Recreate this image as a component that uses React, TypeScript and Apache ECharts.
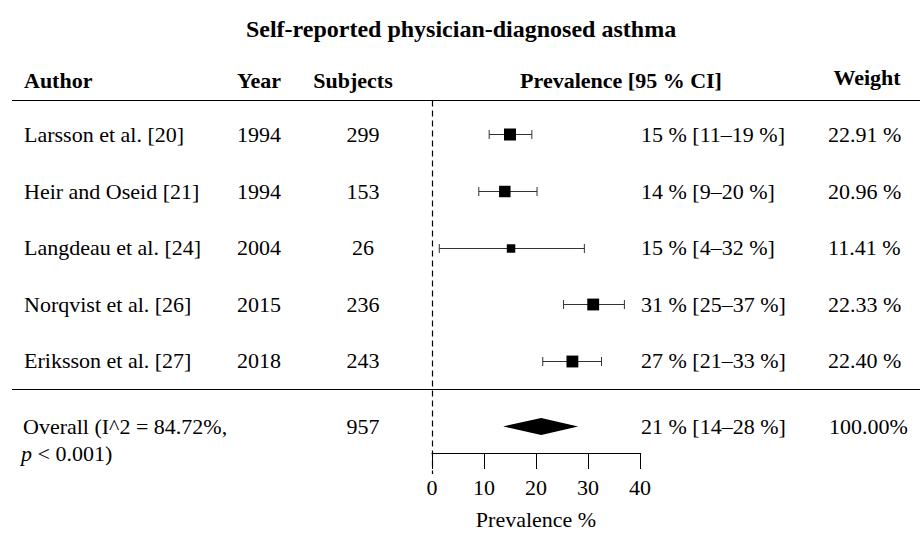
import React, { useEffect, useRef } from "react";
import * as echarts from "echarts";

const FONT = '"Liberation Serif", "Times New Roman", Times, serif';

// ---------- data ----------
const chartTitle = "Self-reported physician-diagnosed asthma";
const headers = ["Author", "Year", "Subjects", "Prevalence [95 % CI]", "Weight"];
const authors = [
  "Larsson et al. [20]",
  "Heir and Oseid [21]",
  "Langdeau et al. [24]",
  "Norqvist et al. [26]",
  "Eriksson et al. [27]",
];
const years = ["1994", "1994", "2004", "2015", "2018"];
const subjects = [299, 153, 26, 236, 243];
const prevalence = [15, 14, 15.2, 31, 27];
const ciLower = [11, 9, 1.4, 25.3, 21.3];
const ciUpper = [19.2, 20.2, 29.3, 37, 32.6];
const ciLabels = [
  "15 % [11–19 %]",
  "14 % [9–20 %]",
  "15 % [4–32 %]",
  "31 % [25–37 %]",
  "27 % [21–33 %]",
];
const weights = [22.91, 20.96, 11.41, 22.33, 22.4];
const weightLabels = ["22.91 %", "20.96 %", "11.41 %", "22.33 %", "22.40 %"];

const overallLabel1 = "Overall (I^2 = 84.72%,";
const overallLabel2 = "{i|p} < 0.001)";
const overallSubjects = 957;
const overallEst = 21;
const overallLower = 13.7;
const overallUpper = 28.1;
const overallCiLabel = "21 % [14–28 %]";
const overallWeightLabel = "100.00%";

const xMin = 0;
const xMax = 40;
const xInterval = 10;
const xAxisTitle = "Prevalence %";

// ---------- layout ----------
const W = 920;
const H = 535;
const GRID_LEFT = 432;
const GRID_WIDTH = 208;
const GRID_TOP = 100;
const AXIS_Y = 459;
const ROW_MIN = 0.392;
const ROW_MAX = 6.625;
const rowPos = authors.map((_, i) => i + 1);
const OVERALL_POS = 6.155;
const P_LINE_POS = 6.64;
const DIVIDER_POS = 5.5;
const COL_AUTHOR = 24;
const COL_YEAR = 259;
const COL_SUBJ = 363;
const COL_CI = 641;
const COL_WEIGHT = 828;
const RULE_LEFT = 12;
const RULE_RIGHT = 920;
const FS = 22;

const maxWeight = Math.max(...weights);

export default function App() {
  const ref = useRef<HTMLDivElement>(null);

  useEffect(() => {
    if (!ref.current) return;
    const chart = echarts.init(ref.current, null, { renderer: "svg" });

    const txt = (text: string, x: number, y: number, align: string, extra: any = {}) => ({
      type: "text",
      x,
      y,
      style: {
        text,
        fill: "#000",
        fontSize: FS,
        fontFamily: FONT,
        align,
        verticalAlign: "middle",
        ...extra,
      },
    });

    const studyData = rowPos.map((p, i) => [p, prevalence[i], ciLower[i], ciUpper[i], weights[i]]);
    const tableData = rowPos.map((p, i) => [p, i]);

    const option: any = {
      animation: false,
      backgroundColor: "#fff",
      grid: { left: GRID_LEFT, width: GRID_WIDTH, top: GRID_TOP, height: AXIS_Y - GRID_TOP, containLabel: false },
      xAxis: {
        type: "value",
        min: xMin,
        max: xMax,
        interval: xInterval,
        axisLine: { show: true, onZero: false, lineStyle: { color: "#000", width: 1 } },
        axisTick: { show: true, inside: false, length: 16, lineStyle: { color: "#000", width: 1 } },
        axisLabel: { color: "#000", fontSize: FS, fontFamily: FONT, margin: 23 },
        splitLine: { show: false },
        name: xAxisTitle,
        nameLocation: "middle",
        nameGap: 55,
        nameTextStyle: { color: "#000", fontSize: FS, fontFamily: FONT },
      },
      yAxis: { type: "value", min: ROW_MIN, max: ROW_MAX, inverse: true, show: false },
      graphic: [
        txt(chartTitle, 461, 29, "center", { fontWeight: "bold", fontSize: 24 }),
        txt(headers[0], COL_AUTHOR, 80, "left", { fontWeight: "bold" }),
        txt(headers[1], COL_YEAR, 80, "center", { fontWeight: "bold" }),
        txt(headers[2], 353, 80, "center", { fontWeight: "bold" }),
        txt(headers[3], 621, 80, "center", { fontWeight: "bold" }),
        txt(headers[4], 867, 77, "center", { fontWeight: "bold" }),
      ],
      series: [
        {
          // rules and dashed reference line
          type: "custom",
          clip: false,
          silent: true,
          data: [[0]],
          renderItem: (params: any, api: any) => {
            const top = api.coord([0, ROW_MIN]);
            const div = api.coord([0, DIVIDER_POS]);
            const bottom = api.coord([0, ROW_MAX]);
            const ty = Math.round(top[1]) + 0.5;
            const dy = Math.round(div[1]) + 0.5;
            const vx = Math.round(top[0]) + 0.5;
            return {
              type: "group",
              children: [
                { type: "line", shape: { x1: RULE_LEFT, y1: ty, x2: RULE_RIGHT, y2: ty }, style: { stroke: "#000", lineWidth: 1.2 } },
                { type: "line", shape: { x1: RULE_LEFT, y1: dy, x2: RULE_RIGHT, y2: dy }, style: { stroke: "#000", lineWidth: 1.2 } },
                { type: "line", shape: { x1: vx, y1: ty, x2: vx, y2: bottom[1] + 21 }, style: { stroke: "#000", lineWidth: 1.2, lineDash: [6, 4] } },
              ],
            };
          },
        },
        {
          // study estimates with CI whiskers
          type: "custom",
          clip: false,
          silent: true,
          data: studyData,
          renderItem: (params: any, api: any) => {
            const pos = api.value(0);
            const c = api.coord([api.value(1), pos]);
            const lo = api.coord([api.value(2), pos])[0];
            const hi = api.coord([api.value(3), pos])[0];
            const y = Math.round(c[1]) + 0.5;
            const s = 12 * Math.sqrt(api.value(4) / maxWeight);
            const ls = { stroke: "#333", lineWidth: 1 };
            return {
              type: "group",
              children: [
                { type: "line", shape: { x1: lo, y1: y, x2: hi, y2: y }, style: ls },
                { type: "line", shape: { x1: lo, y1: y - 4.5, x2: lo, y2: y + 4.5 }, style: ls },
                { type: "line", shape: { x1: hi, y1: y - 4.5, x2: hi, y2: y + 4.5 }, style: ls },
                { type: "rect", shape: { x: c[0] - s / 2, y: y - s / 2, width: s, height: s }, style: { fill: "#000" } },
              ],
            };
          },
        },
        {
          // overall diamond
          type: "custom",
          clip: false,
          silent: true,
          data: [[OVERALL_POS, overallEst, overallLower, overallUpper]],
          renderItem: (params: any, api: any) => {
            const pos = api.value(0);
            const c = api.coord([api.value(1), pos]);
            const lo = api.coord([api.value(2), pos])[0];
            const hi = api.coord([api.value(3), pos])[0];
            const h = 8.5;
            return {
              type: "polygon",
              shape: { points: [[lo, c[1]], [c[0], c[1] - h], [hi, c[1]], [c[0], c[1] + h]] },
              style: { fill: "#000" },
            };
          },
        },
        {
          // table text per study row
          type: "custom",
          clip: false,
          silent: true,
          data: tableData,
          renderItem: (params: any, api: any) => {
            const pos = api.value(0);
            const i = api.value(1);
            const y = api.coord([0, pos])[1];
            return {
              type: "group",
              children: [
                txt(authors[i], COL_AUTHOR, y, "left"),
                txt(years[i], COL_YEAR, y, "center"),
                txt(String(subjects[i]), COL_SUBJ, y, "center"),
                txt(ciLabels[i], COL_CI, y, "left"),
                txt(weightLabels[i], COL_WEIGHT, y, "left"),
              ],
            };
          },
        },
        {
          // overall text row
          type: "custom",
          clip: false,
          silent: true,
          data: [[OVERALL_POS, P_LINE_POS]],
          renderItem: (params: any, api: any) => {
            const y = api.coord([0, api.value(0)])[1];
            const y2 = api.coord([0, api.value(1)])[1];
            return {
              type: "group",
              children: [
                txt(overallLabel1, COL_AUTHOR - 1, y, "left"),
                txt(overallLabel2, COL_AUTHOR - 3, y2, "left", {
                  rich: { i: { fontStyle: "italic", fontSize: FS, fontFamily: FONT, fill: "#000" } },
                }),
                txt(String(overallSubjects), COL_SUBJ, y, "center"),
                txt(overallCiLabel, COL_CI, y, "left"),
                txt(overallWeightLabel, COL_WEIGHT + 1, y, "left"),
              ],
            };
          },
        },
      ],
    };

    chart.setOption(option);
    return () => chart.dispose();
  }, []);

  return (
    <div
      ref={ref}
      style={{ position: "absolute", left: 0, top: 0, width: W, height: H, background: "#fff" }}
    />
  );
}
